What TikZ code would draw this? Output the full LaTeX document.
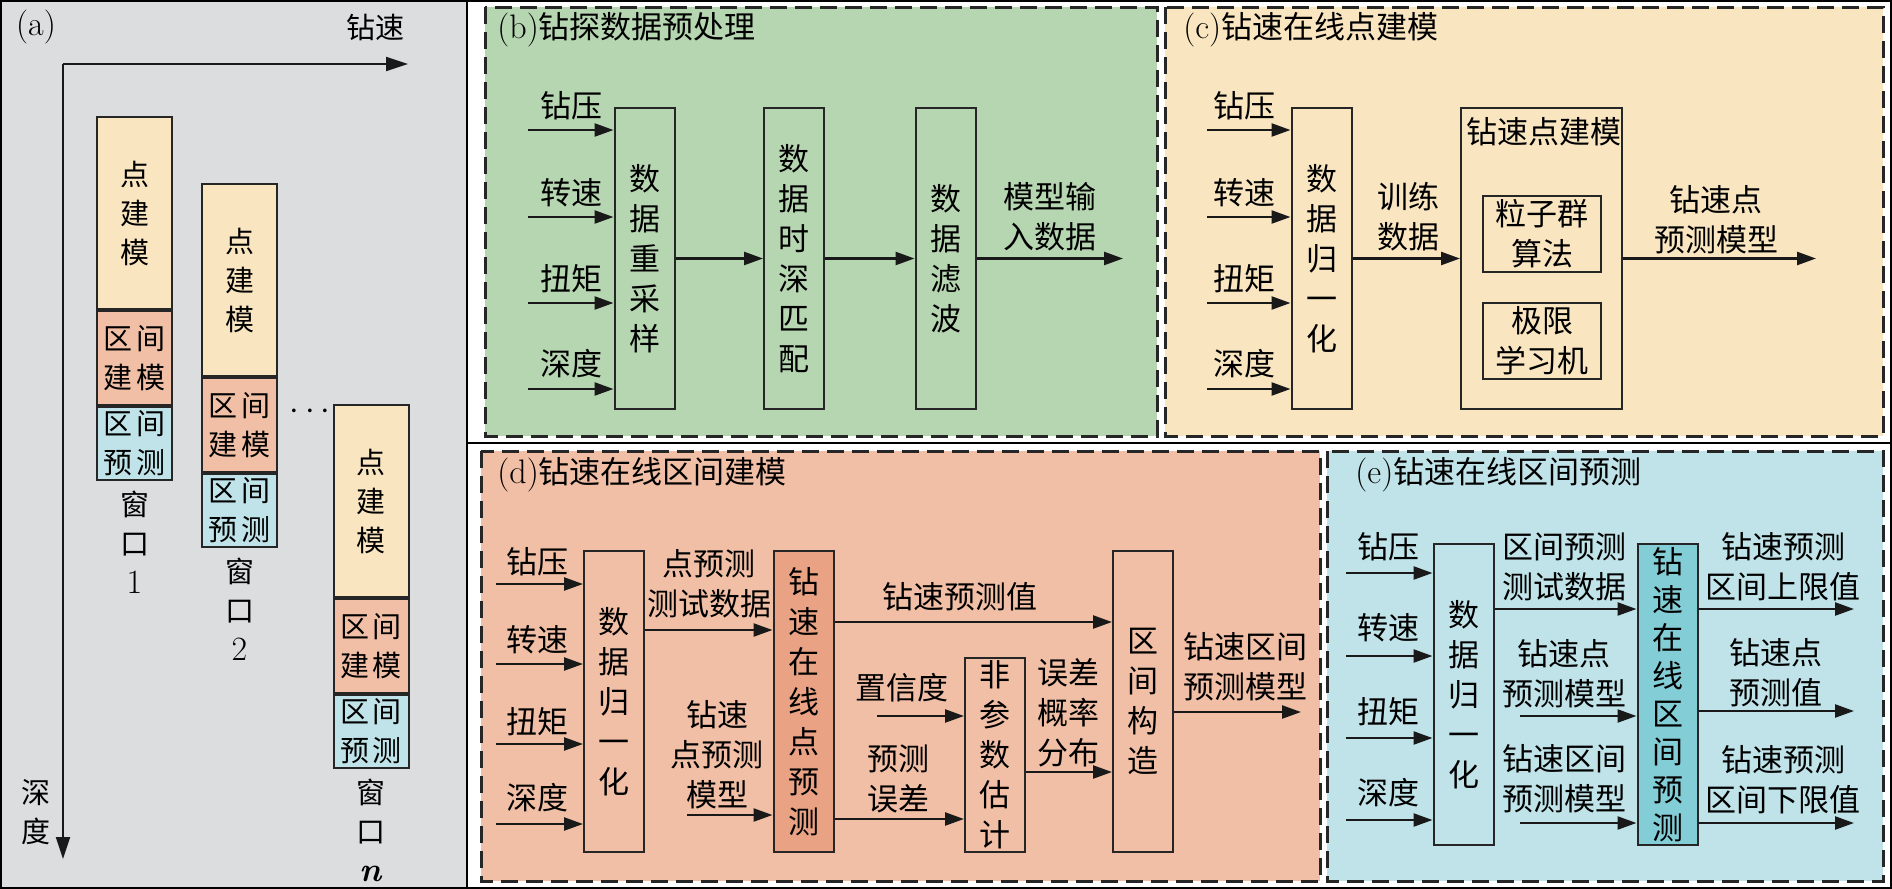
\documentclass[tikz,border=0pt]{standalone}
\usepackage{fontspec}
\newfontfamily\cjk{Noto Sans CJK SC}
\usetikzlibrary{arrows.meta,positioning}

\definecolor{agray}{RGB}{220,221,223}
\definecolor{bgreen}{RGB}{182,213,177}
\definecolor{cbeige}{RGB}{249,230,193}
\definecolor{dsalmon}{RGB}{241,191,165}
\definecolor{ddark}{RGB}{233,162,131}
\definecolor{eblue}{RGB}{191,227,232}
\definecolor{eteal}{RGB}{131,205,214}

\newcommand\twoch[2]{\makebox[31pt][s]{#1\hfill#2}}
\newcommand\lat[1]{{\rmfamily\fontsize{17}{20}\selectfont #1}}

\tikzset{
  txt/.style={font=\cjk\fontsize{15.5}{20}\selectfont, align=center, inner sep=0pt},
  atxt/.style={font=\cjk\fontsize{14.5}{19.5}\selectfont, align=center, inner sep=0pt},
  blk/.style={draw=black!85, line width=1pt, txt, minimum width=30pt, minimum height=150.5pt},
  ablk/.style={draw=black!85, line width=1pt, atxt, minimum width=37.5pt},
  arr/.style={draw=black!90, line width=1.2pt, -{Triangle[length=9.5pt,width=6.5pt]}},
  axis/.style={draw=black!90, line width=1pt, -{Triangle[length=11pt,width=7pt]}},
  panel/.style={draw=black!85, line width=1.5pt, dash pattern=on 8.5pt off 4pt},
}

\begin{document}
\begin{tikzpicture}[x=0.5pt,y=-0.5pt]
\useasboundingbox (0,0) rectangle (1892,889);

% (a) windows along the depth axis
\fill[agray] (0,0) rectangle (467,889);
\node[inner sep=0pt] (alab) at (36,27) {\lat{(a)}};
\coordinate (o) at (63,64);
\coordinate (xend) at (408,64);
\coordinate (yend) at (63,859);
\draw[axis] (o) -- (xend);
\draw[axis] (o) -- (yend);
\node[atxt] (xlab) at (375,27) {钻速};
\node[atxt] (ylab) at (36,812) {深\\度};
\foreach \i/\x/\y/\w in {1/134.5/116/1, 2/239.5/183/2, 3/371/404/{\bfseries\itshape n}} {
  \node[ablk, fill=cbeige, minimum height=96pt, anchor=north] (pt\i) at (\x,\y) {点\\建\\模};
  \node[ablk, fill=dsalmon, minimum height=47pt, below=0pt of pt\i] (iv\i) {\twoch{区}{间}\\\twoch{建}{模}};
  \node[ablk, fill=eblue, minimum height=36.5pt, below=0pt of iv\i] (ip\i) {\twoch{区}{间}\\\twoch{预}{测}};
  \node[atxt, below=5pt of ip\i] (win\i) {窗\\口\\\lat{\w}};
}
\node[font=\fontsize{18}{20}\selectfont, inner sep=0pt] (dots) at (310,412) {$\cdots$};

% (b)
\draw[panel, fill=bgreen] (485,7) rectangle (1157,436);
\node[txt, anchor=west] (btitle) at (497,30) {\lat{(b)}钻探数据预处理};
\node[blk] (b1) at (644.5,258.5) {数\\据\\重\\采\\样};
\node[blk] (b2) at (794,258.5) {数\\据\\时\\深\\匹\\配};
\node[blk] (b3) at (945.5,258.5) {数\\据\\滤\\波};
\foreach \n/\ya/\yl in {钻压/130/106, 转速/217/193, 扭矩/303/279, 深度/389/364} {
  \coordinate (bin) at (528,\ya);
  \draw[arr] (bin) -- (bin -| b1.west);
  \node[txt] (bl\ya) at (571,\yl) {\n};
}
\draw[arr] (b1.east) -- (b2.west);
\draw[arr] (b2.east) -- (b3.west);
\coordinate (bout) at (1123,258.5);
\draw[arr] (b3.east) -- (bout);
\node[txt] (bdata) at (1050,217) {模型输\\入数据};

% (c)
\draw[panel, fill=cbeige] (1165,7) rectangle (1883,436);
\node[txt, anchor=west] (ctitle) at (1183,30) {\lat{(c)}钻速在线点建模};
\node[blk] (c1) at (1321.5,258.5) {数\\据\\归\\一\\化};
\node[blk, minimum width=80.5pt] (c2) at (1541.5,258.5) {};
\node[txt] (c2t) at (1544,132) {钻速点建模};
\node[blk, minimum width=59pt, minimum height=38pt] (c3) at (1542,234) {粒子群\\算法};
\node[blk, minimum width=59pt, minimum height=38pt] (c4) at (1542,341) {极限\\学习机};
\foreach \n/\ya/\yl in {钻压/130/106, 转速/217/193, 扭矩/303/279, 深度/389/364} {
  \coordinate (cin) at (1207,\ya);
  \draw[arr] (cin) -- (cin -| c1.west);
  \node[txt] (cl\ya) at (1244,\yl) {\n};
}
\draw[arr] (c1.east) -- (c2.west);
\node[txt] (ctrain) at (1408,216.5) {训练\\数据};
\coordinate (cout) at (1816,258.5);
\draw[arr] (c2.east) -- (cout);
\node[txt] (cmodel) at (1716,219.5) {钻速点\\预测模型};

% (d)
\draw[panel, fill=dsalmon] (481,451) rectangle (1320,881);
\node[txt, anchor=west] (dtitle) at (497,475) {\lat{(d)}钻速在线区间建模};
\node[blk] (d1) at (614,701.5) {数\\据\\归\\一\\化};
\node[blk, fill=ddark] (d2) at (803.5,701.5) {钻\\速\\在\\线\\点\\预\\测};
\node[blk, minimum height=97pt] (d3) at (995,755) {非\\参\\数\\估\\计};
\node[blk] (d4) at (1143,701.5) {区\\间\\构\\造};
\foreach \n/\ya/\yl in {钻压/584/562, 转速/664/640, 扭矩/744/722, 深度/824/798} {
  \coordinate (din) at (496,\ya);
  \draw[arr] (din) -- (din -| d1.west);
  \node[txt] (dl\ya) at (537,\yl) {\n};
}
\coordinate (dr1) at (0,630);
\draw[arr] (d1.east |- dr1) -- (d2.west |- dr1);
\node[txt] (dtest) at (709,584) {点预测\\测试数据};
\coordinate (dm) at (687,815);
\draw[arr] (dm) -- (dm -| d2.west);
\node[txt] (dpm) at (717,755) {钻速\\点预测\\模型};
\coordinate (dr2) at (0,622);
\draw[arr] (d2.east |- dr2) -- (d4.west |- dr2);
\node[txt] (dval) at (960,597) {钻速预测值};
\coordinate (dr3) at (0,819);
\draw[arr] (d2.east |- dr3) -- (d3.west |- dr3);
\node[txt] (derr) at (898,779) {预测\\误差};
\coordinate (dc) at (877,716);
\draw[arr] (dc) -- (dc -| d3.west);
\node[txt] (dconf) at (902,688) {置信度};
\coordinate (dr4) at (0,772);
\draw[arr] (d3.east |- dr4) -- (d4.west |- dr4);
\node[txt] (ddist) at (1068,713) {误差\\概率\\分布};
\coordinate (dout) at (1301,712);
\draw[arr] (dout -| d4.east) -- (dout);
\node[txt] (dmodel) at (1245,667) {钻速区间\\预测模型};

% (e)
\draw[panel, fill=eblue] (1327,451) rectangle (1883,881);
\node[txt, anchor=west] (etitle) at (1355,475) {\lat{(e)}钻速在线区间预测};
\node[blk] (e1) at (1463.5,694.5) {数\\据\\归\\一\\化};
\node[blk, fill=eteal, font=\cjk\fontsize{15.5}{19}\selectfont] (e2) at (1667.5,694.5) {钻\\速\\在\\线\\区\\间\\预\\测};
\foreach \n/\ya/\yl in {钻压/573/547, 转速/656/628, 扭矩/738/712, 深度/820/793} {
  \coordinate (ein) at (1346,\ya);
  \draw[arr] (ein) -- (ein -| e1.west);
  \node[txt] (el\ya) at (1388,\yl) {\n};
}
\coordinate (er1) at (0,609);
\draw[arr] (e1.east |- er1) -- (e2.west |- er1);
\node[txt] (etest) at (1564,567) {区间预测\\测试数据};
\coordinate (em1) at (1520,716);
\draw[arr] (em1) -- (em1 -| e2.west);
\node[txt] (epm) at (1564,674) {钻速点\\预测模型};
\coordinate (em2) at (1520,823);
\draw[arr] (em2) -- (em2 -| e2.west);
\node[txt] (eim) at (1564,779) {钻速区间\\预测模型};
\coordinate (eo1) at (1854,609);
\coordinate (eo2) at (1854,711);
\coordinate (eo3) at (1854,823);
\draw[arr] (eo1 -| e2.east) -- (eo1);
\draw[arr] (eo2 -| e2.east) -- (eo2);
\draw[arr] (eo3 -| e2.east) -- (eo3);
\node[txt] (eup) at (1783,566.5) {钻速预测\\区间上限值};
\node[txt] (eval) at (1776,673) {钻速点\\预测值};
\node[txt] (elow) at (1783,780) {钻速预测\\区间下限值};

% frame
\draw[line width=1pt] (467,0) -- (467,889);
\draw[line width=1pt] (467,443) -- (1891,443);
\draw[line width=1pt] (1,1) rectangle (1891,888);
\end{tikzpicture}
\end{document}
